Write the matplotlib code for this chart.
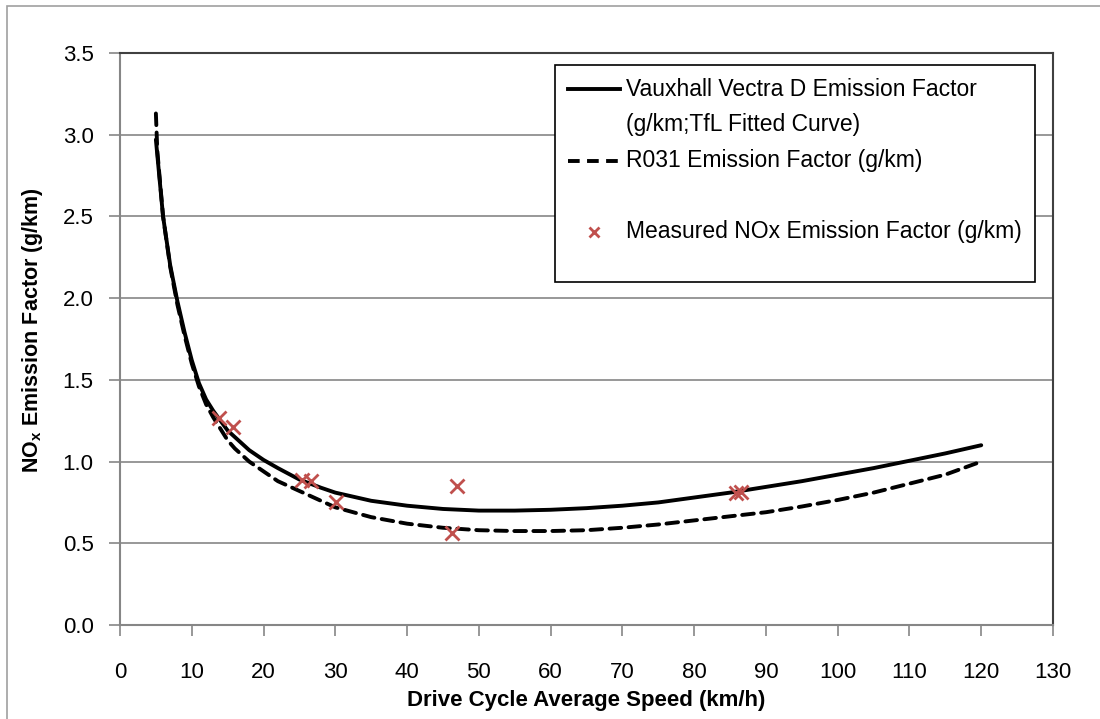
import matplotlib
matplotlib.use('Agg')
import matplotlib.pyplot as plt
from matplotlib.lines import Line2D
from matplotlib.patches import Rectangle

plt.rcParams['font.family'] = ['Liberation Sans', 'DejaVu Sans']
plt.rcParams['mathtext.default'] = 'regular'

# TfL fitted curve for the Vectra D (g/km)
vectra_speed = [5, 6, 7, 8, 9, 10, 11, 12, 13, 14, 15, 16, 18, 20, 22, 25, 28, 30,
                35, 40, 45, 50, 55, 60, 65, 70, 75, 80, 85, 90, 95, 100, 105,
                110, 115, 118, 120]
vectra_ef = [2.97, 2.50, 2.20, 1.98, 1.79, 1.62, 1.48, 1.38, 1.31, 1.25, 1.19, 1.15,
             1.07, 1.01, 0.96, 0.89, 0.84, 0.81, 0.76, 0.73, 0.71, 0.70, 0.70,
             0.705, 0.715, 0.73, 0.75, 0.78, 0.81, 0.845, 0.88, 0.92, 0.96,
             1.005, 1.05, 1.08, 1.10]

# R031 emission factor (g/km)
r031_speed = [5, 5.2, 6, 7, 8, 9, 10, 11, 12, 13, 14, 15, 16, 18, 20, 22, 25, 28, 30,
              35, 40, 45, 50, 55, 60, 65, 70, 75, 80, 85, 90, 95, 100, 105,
              110, 115, 120]
r031_ef = [3.13, 2.90, 2.50, 2.19, 1.96, 1.77, 1.60, 1.46, 1.35, 1.27, 1.20, 1.13,
           1.08, 1.00, 0.94, 0.88, 0.82, 0.76, 0.72, 0.66, 0.62, 0.595, 0.58,
           0.575, 0.575, 0.58, 0.595, 0.615, 0.64, 0.665, 0.69, 0.725, 0.765,
           0.81, 0.865, 0.92, 1.00]

# measured drive cycle results
meas_speed = [13.8, 15.7, 25.3, 26.6, 30.1, 46.3, 46.9, 85.9, 86.5]
meas_nox = [1.265, 1.21, 0.885, 0.88, 0.755, 0.565, 0.85, 0.81, 0.815]

xticks = list(range(0, 131, 10))
yticks = [0.0, 0.5, 1.0, 1.5, 2.0, 2.5, 3.0, 3.5]

red = '#C0504D'
grey = '#868686'

fig = plt.figure(figsize=(11, 7.19), dpi=100)
ax = fig.add_axes([120 / 1100, 1 - 625 / 719, 933 / 1100, 572 / 719])

# outer chart border
fig.patches.append(Rectangle((7 / 1100, -0.1), 1.2, 1 - 6 / 719 + 0.1,
                             transform=fig.transFigure, fill=False,
                             edgecolor='#a0a0a0', linewidth=1.2))

ax.plot(vectra_speed, vectra_ef, color='black', linewidth=2.8,
        solid_capstyle='round', zorder=3)
ax.plot(r031_speed, r031_ef, color='black', linewidth=2.8, dashes=(3.0, 1.9),
        dash_capstyle='round', zorder=3)
ax.plot(meas_speed, meas_nox, linestyle='none', marker='x', markersize=10,
        markeredgewidth=2, color=red, zorder=4)

ax.set_xlim(0, 130)
ax.set_ylim(0, 3.5)
ax.set_xticks(xticks)
ax.set_yticks(yticks)
ax.set_yticklabels(['%.1f' % v for v in yticks])
ax.yaxis.grid(True, color=grey, linewidth=1.2)
ax.set_axisbelow(True)

ax.tick_params(axis='both', direction='out', length=8, width=1.2, color=grey,
               labelsize=16)
ax.tick_params(axis='x', pad=19)
ax.tick_params(axis='y', pad=11)
for side in ['left', 'bottom']:
    ax.spines[side].set_color(grey)
    ax.spines[side].set_linewidth(1.5)
for side in ['top', 'right']:
    ax.spines[side].set_color('#404040')
    ax.spines[side].set_linewidth(1.5)

ax.set_xlabel('Drive Cycle Average Speed (km/h)', fontsize=16,
              fontweight='bold', labelpad=5)
ax.set_ylabel('NO$_{x}$ Emission Factor (g/km)', fontsize=15.5,
              fontweight='bold')
ax.yaxis.set_label_coords(-0.080, 0.516)

# legend rows; blank rows give the spacing of the original layout
blank = Line2D([], [], linestyle='none')
handles = [
    Line2D([], [], color='black', linewidth=2.8),
    blank,
    Line2D([], [], color='black', linewidth=2.8, dashes=(3.0, 1.9)),
    blank,
    Line2D([], [], linestyle='none', marker='x', markersize=7,
           markeredgewidth=2, color=red),
    blank,
]
labels = ['Vauxhall Vectra D Emission Factor', '(g/km;TfL Fitted Curve)',
          'R031 Emission Factor (g/km)', ' ',
          'Measured NOx Emission Factor (g/km)', ' ']
leg = ax.legend(handles, labels, loc='upper left',
                bbox_to_anchor=((555 - 120) / 933, (625 - 65) / 572),
                borderaxespad=0, fontsize=16.5, handlelength=2.3,
                handletextpad=0.27, labelspacing=0.55, borderpad=0.55,
                handleheight=0.2, fancybox=False, framealpha=1)
leg.get_texts()[-1].set_fontsize(4)
leg.get_frame().set_edgecolor('black')
leg.get_frame().set_linewidth(1.2)

fig.savefig('out.png', dpi=100)
